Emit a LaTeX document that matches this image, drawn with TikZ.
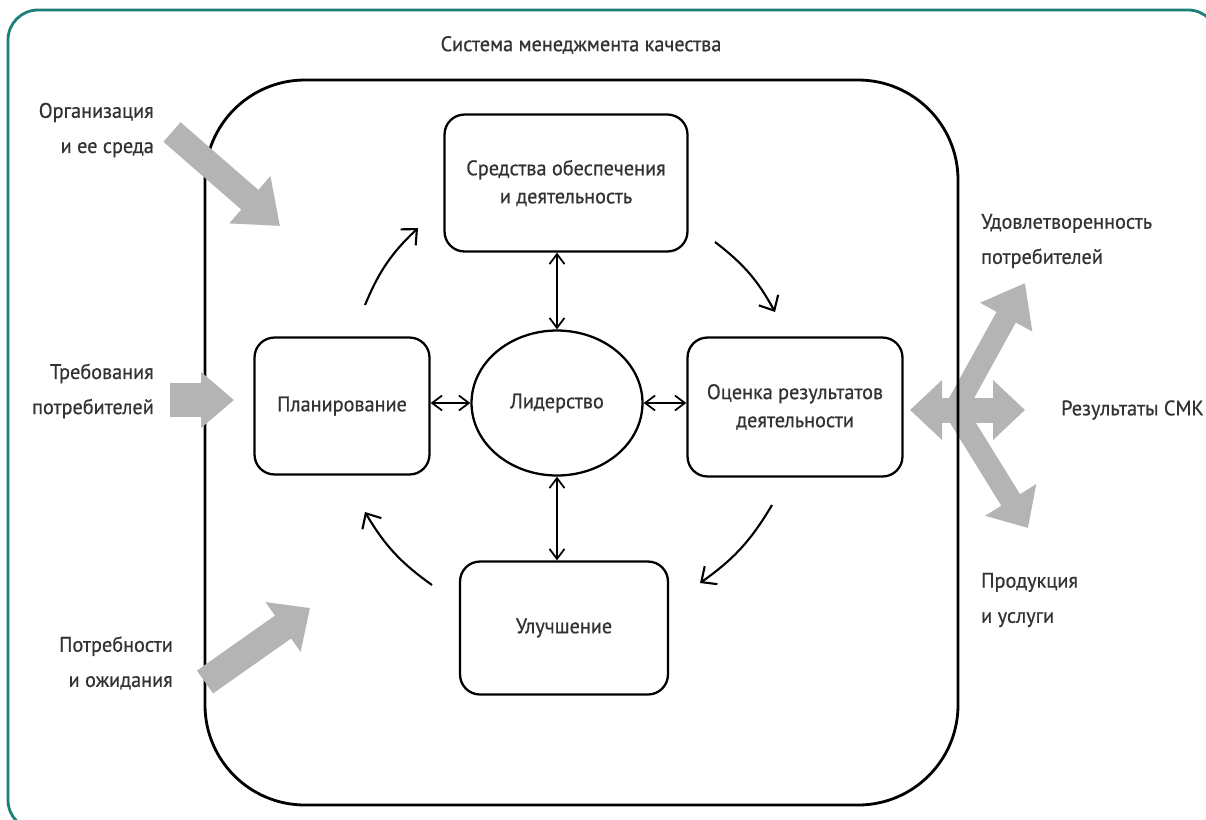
\documentclass[tikz,border=0pt]{standalone}
\usepackage{fontspec}
\setmainfont[FakeStretch=0.96,FakeBold=0.6]{PT Sans}
\usetikzlibrary{arrows.meta,shapes.geometric}
\definecolor{ramka}{HTML}{1F7F78}
\definecolor{seryj}{HTML}{B4B4B4}
\definecolor{tekst}{HTML}{333333}
\tikzset{
  blok/.style={draw=black, line width=1.3pt, rounded corners=0.4cm, align=center,
    text=tekst, font=\fontsize{12}{16}\selectfont},
  metka/.style={text=tekst, font=\fontsize{12}{20}\selectfont},
  dvoj/.style={line width=1pt, {Straight Barb[length=2mm,width=3mm]}-{Straight Barb[length=2mm,width=3mm]}},
  cikl/.style={line width=1.2pt, -{Straight Barb[length=2.4mm,width=4.4mm]}, bend left=12},
  tolst/.style={draw=seryj, line width=#1}
}

\begin{document}
\begin{tikzpicture}[x=0.02cm, y=-0.02cm]
   \useasboundingbox (0,0) rectangle (1206,819);
   \clip (0,0) rectangle (1206,819);
   \fill [white] (0,0) rectangle (1206,819);
   \draw [ramka, line width=1.6pt, rounded corners=0.6cm] (8,10) rectangle (1218,830);

   \coordinate (out-l) at (910,410);
   \coordinate (out-r) at (1025,410);
   \coordinate (out-o) at (955,410);
   \coordinate (out-u) at (1025,283);
   \coordinate (out-d) at (1028,528);
   \draw [tolst=0.5cm, {Triangle[length=0.64cm,width=1.16cm]}-{Triangle[length=0.64cm,width=1.16cm]}] (out-l) -- (out-r);
   \draw [tolst=0.44cm, -{Triangle[length=0.78cm,width=1.14cm]}] (out-o) -- (out-u);
   \draw [tolst=0.44cm, -{Triangle[length=0.66cm,width=1.16cm]}] (out-o) -- (out-d);

   \draw [line width=1.6pt, rounded corners=2cm] (205,80) rectangle (958,805);

   \coordinate (org-a) at (172,132);
   \coordinate (org-b) at (280,226);
   \draw [tolst=0.52cm, -{Triangle[length=0.8cm,width=1.2cm]}] (org-a) -- (org-b);
   \coordinate (treb-a) at (170,400);
   \coordinate (treb-b) at (234,400);
   \draw [tolst=0.68cm, -{Triangle[length=0.66cm,width=1.08cm]}] (treb-a) -- (treb-b);
   \coordinate (potr-a) at (205,682);
   \coordinate (potr-b) at (310,608);
   \draw [tolst=0.56cm, -{Triangle[length=0.66cm,width=1.18cm]}] (potr-a) -- (potr-b);

   \node [metka] (title) at (581,45) {Система менеджмента качества};
   \node [metka, anchor=east, align=right] (org) at (160,130) {Организация\\и ее среда};
   \node [metka, anchor=east, align=right] (treb) at (160,391) {Требования\\потребителей};
   \node [metka, anchor=east, align=right] (potr) at (179,663) {Потребности\\и ожидания};
   \node [metka, anchor=west, align=left] (udov) at (975,241) {Удовлетворенность\\потребителей};
   \node [metka, anchor=west] (rez) at (1055,410) {Результаты СМК};
   \node [metka, anchor=west, align=left] (prod) at (975,600) {Продукция\\и услуги};

   \node [blok, minimum width=4.86cm, minimum height=2.74cm] (sredstva) at (566,183) {Средства обеспечения\\и деятельность};
   \node [blok, minimum width=3.5cm, minimum height=2.74cm] (plan) at (342,406) {Планирование};
   \node [blok, ellipse, rounded corners=0pt, minimum width=3.42cm, minimum height=2.9cm, inner sep=0pt] (lider) at (557,403) {Лидерство};
   \node [blok, minimum width=4.3cm, minimum height=2.78cm] (ocenka) at (795,407) {Оценка результатов\\деятельности};
   \node [blok, minimum width=4.16cm, minimum height=2.66cm] (uluch) at (564,628) {Улучшение};

   \draw [dvoj] (lider.north) -- (lider.north |- sredstva.south);
   \draw [dvoj] (lider.south) -- (lider.south |- uluch.north);
   \draw [dvoj] (lider.west) -- (lider.west -| plan.east);
   \draw [dvoj] (lider.east) -- (lider.east -| ocenka.west);

   \coordinate (c1a) at (365,305);
   \coordinate (c1b) at (418,228);
   \coordinate (c2a) at (715,242);
   \coordinate (c2b) at (775,312);
   \coordinate (c3a) at (772,505);
   \coordinate (c3b) at (700,583);
   \coordinate (c4a) at (432,585);
   \coordinate (c4b) at (365,512);
   \draw [cikl] (c1a) to (c1b);
   \draw [cikl] (c2a) to (c2b);
   \draw [cikl] (c3a) to (c3b);
   \draw [cikl] (c4a) to (c4b);
\end{tikzpicture}
\end{document}
